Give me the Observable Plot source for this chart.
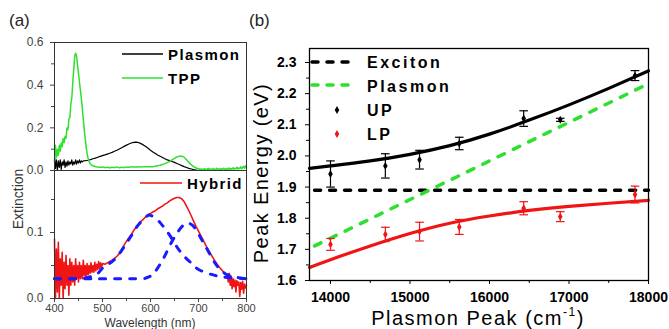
<!DOCTYPE html>
<html><head><meta charset="utf-8">
<script src="https://cdn.jsdelivr.net/npm/d3@7"></script>
<script src="https://cdn.jsdelivr.net/npm/@observablehq/plot@0.6"></script>
<style>
html,body{margin:0;padding:0;background:#fff;}
#chart{position:relative;width:669px;height:329px;overflow:hidden;background:#fff;}
#chart svg{position:absolute;left:0;top:0;}
</style></head><body><div id="chart"></div>
<script>
// ---------- Panel (a) top: Plasmon and TPP extinction ----------
const plasmonWl = [...d3.range(400, 461, 2), ...d3.range(465, 721, 5)];
const plasmonExt = [
  0.07,0.01,0.05,0.0,0.045,0.015,0.05,0.005,0.04,0.025,0.05,0.015,0.04,0.02,0.045,0.025,
  0.04,0.03,0.05,0.025,0.04,0.03,0.05,0.03,0.045,0.035,0.05,0.035,0.045,0.04,0.045,
  0.046,0.048,0.051,0.055,0.058,0.062,0.066,0.07,0.073,0.077,0.081,0.085,0.09,0.095,0.101,0.107,
  0.113,0.119,0.124,0.129,0.132,0.133,0.131,0.126,0.12,0.112,0.104,0.095,0.087,0.08,0.073,0.067,
  0.061,0.055,0.05,0.046,0.042,0.038,0.033,0.028,0.023,0.018,0.014,0.01,0.007,0.004,0.002,0.001,
  0,0,0,0];
const tppWl = [...d3.range(400, 491, 2), ...d3.range(495, 701, 5), ...d3.range(702, 801, 2)];
const tppExt = [
  0.04,0.12,0.06,0.1,0.07,0.12,0.09,0.13,0.11,0.15,0.13,0.16,0.15,0.2,0.19,0.24,
  0.25,0.31,0.34,0.41,0.47,0.53,0.55,0.535,0.495,0.455,0.415,0.375,0.335,0.29,0.24,0.19,
  0.15,0.11,0.08,0.057,0.042,0.033,0.028,0.024,0.022,0.021,0.019,0.018,0.017,0.016,
  0.015,0.016,0.014,0.015,0.013,0.015,0.014,0.016,0.013,0.015,0.014,0.016,0.015,0.017,0.016,
  0.016,0.017,0.016,0.018,0.017,0.017,0.017,0.018,0.02,0.022,0.025,0.028,0.032,0.037,0.043,
  0.05,0.057,0.063,0.067,0.067,0.062,0.05,0.038,0.027,0.018,0.012,0.008,
  0.007,0.004,0.008,0.003,0.006,0.009,0.004,0.007,0.005,0.01,0.004,0.008,0.006,0.003,0.009,
  0.005,0.007,0.004,0.01,0.006,0.005,0.009,0.004,0.008,0.006,0.011,0.005,0.008,0.004,0.01,
  0.006,0.012,0.005,0.009,0.007,0.013,0.006,0.01,0.008,0.015,0.007,0.012,0.009,0.018,0.008,
  0.014,0.02,0.01,0.022,0.012];

// ---------- Panel (a) bottom: Hybrid and the two fitted peaks ----------
const hybridWl = [...d3.range(400, 501, 2), ...d3.range(505, 761, 5), ...d3.range(762, 801, 2)];
const hybridExt = [
  0.09,0.0,0.075,0.01,0.085,0.0,0.06,0.02,0.07,0.0,0.055,0.015,0.065,0.02,0.05,0.005,0.06,
  0.02,0.055,0.025,0.05,0.02,0.06,0.03,0.05,0.025,0.055,0.03,0.05,0.03,0.058,0.035,0.05,0.03,
  0.053,0.036,0.05,0.038,0.054,0.04,0.05,0.04,0.055,0.042,0.052,0.044,0.056,0.045,0.054,0.047,0.053,
  0.052,0.054,0.056,0.058,0.061,0.064,0.068,0.074,0.081,0.087,0.092,0.097,0.103,0.108,0.113,
  0.117,0.12,0.124,0.127,0.129,0.131,0.133,0.136,0.138,0.14,0.143,0.145,0.148,0.15,0.152,0.153,
  0.153,0.151,0.147,0.14,0.133,0.125,0.117,0.109,0.102,0.095,0.088,0.081,0.074,0.068,0.062,
  0.056,0.051,0.046,0.042,0.038,0.035,
  0.025,0.038,0.02,0.034,0.015,0.03,0.018,0.028,0.01,0.027,0.02,0.025,0.003,0.024,0.014,0.026,
  0.008,0.022,0.016,0.02];
const peak1Wl = [400,440,470,490,500,510,520,530,540,550,560,570,580,590,595,600,610,620,630,640,650,660,670,680,690,700,720,740,760,780,800];
const peak1Ext = [0.03,0.03,0.032,0.038,0.046,0.051,0.056,0.063,0.073,0.084,0.095,0.107,0.116,0.123,0.126,0.126,0.122,0.115,0.106,0.096,0.084,0.073,0.064,0.057,0.05,0.044,0.038,0.034,0.032,0.031,0.03];
const peak2Wl = [400,560,590,600,610,620,630,640,650,660,670,680,690,700,710,720,730,740,750,760,780,800];
const peak2Ext = [0.03,0.03,0.031,0.034,0.041,0.052,0.065,0.08,0.093,0.104,0.112,0.114,0.109,0.098,0.085,0.072,0.059,0.048,0.041,0.036,0.032,0.03];

// ---------- Panel (b): dispersion ----------
const peakX = [14000, 14690, 15120, 15620, 16430, 16890, 17830];
const upE   = [1.942, 1.968, 1.988, 2.04, 2.12, 2.116, 2.258];
const upErr = [0.042, 0.039, 0.03, 0.02, 0.025, 0.005, 0.016];
const lpE   = [1.716, 1.748, 1.757, 1.772, 1.832, 1.805, 1.876];
const lpErr = [0.019, 0.023, 0.03, 0.024, 0.021, 0.016, 0.027];
const fitX  = [13736, 14000, 14500, 15000, 15500, 16000, 16500, 17000, 17500, 18000];
const upFitE = [1.96, 1.968, 1.984, 2.005, 2.033, 2.07, 2.115, 2.164, 2.217, 2.273];
const lpFitE = [1.642, 1.667, 1.711, 1.751, 1.784, 1.807, 1.825, 1.838, 1.848, 1.857];
const excitonX = [13800, 18000], excitonE = [1.89, 1.89];
const plasmonLineX = [13800, 18000], plasmonLineE = [1.711, 2.232];

// tick labels
const aTopTicks = [0, 0.2, 0.4, 0.6], aTopMinor = [0.1, 0.3, 0.5];
const aBotTicks = [0, 0.1], aBotMinor = [0.05, 0.15];
const wlTicks = [400, 500, 600, 700, 800], wlMinor = [450, 550, 650, 750];
const eTicks = [1.6, 1.7, 1.8, 1.9, 2.0, 2.1, 2.2, 2.3];
const eMinor = [1.65, 1.75, 1.85, 1.95, 2.05, 2.15, 2.25];
const kTicks = [14000, 15000, 16000, 17000, 18000], kMinor = [14500, 15500, 16500, 17500];

const GREEN = "#2ee02e", RED = "#f01414", BLUE = "#1a1aff";
const zip = (xs, ys) => xs.map((x, i) => ({x, y: ys[i]}));
const pts = (ys, es) => peakX.map((x, i) => ({x, y: ys[i], e: es[i]}));
const fmt1 = d3.format(".1f");
const none = () => "";
const capSymbol = {draw(ctx) { ctx.moveTo(-4.3, 0); ctx.lineTo(4.3, 0); }};
const aFont = "'Liberation Sans Narrow', 'Arial Narrow', 'Liberation Sans', Arial, sans-serif";
const bFont = "'Liberation Sans', Arial, sans-serif";

const chart = document.getElementById("chart");

const aTop = Plot.plot({
  width: 669, height: 329, marginLeft: 54, marginRight: 423, marginTop: 42, marginBottom: 159,
  x: {domain: [400, 800], axis: null},
  y: {domain: [0, 0.6]},
  style: {background: "transparent", fontFamily: aFont, fontSize: "12px", color: "#444"},
  marks: [
    Plot.axisY({ticks: aTopTicks, tickSize: 4, tickPadding: 7, tickFormat: fmt1, label: null}),
    Plot.axisY({ticks: aTopMinor, tickSize: 3, tickFormat: none, label: null}),
    Plot.line(zip(plasmonWl, plasmonExt), {x: "x", y: "y", stroke: "#000", strokeWidth: 1.2}),
    Plot.line(zip(tppWl, tppExt), {x: "x", y: "y", stroke: GREEN, strokeWidth: 1.5, curve: "monotone-x"}),
    Plot.frame({stroke: "#333"})
  ]
});

const aBot = Plot.plot({
  width: 669, height: 329, marginLeft: 54, marginRight: 423, marginTop: 170, marginBottom: 31,
  x: {domain: [400, 800]},
  y: {domain: [0, 0.194]},
  style: {background: "transparent", fontFamily: aFont, fontSize: "12px", color: "#444"},
  marks: [
    Plot.axisY({ticks: aBotTicks, tickSize: 4, tickPadding: 7, tickFormat: fmt1, label: null}),
    Plot.axisY({ticks: aBotMinor, tickSize: 3, tickFormat: none, label: null}),
    Plot.axisX({ticks: wlTicks, tickSize: 4, tickPadding: 2, fontSize: 11, tickFormat: d3.format("d"), label: null}),
    Plot.axisX({ticks: wlMinor, tickSize: 3, tickFormat: none, label: null}),
    Plot.line(zip(hybridWl, hybridExt), {x: "x", y: "y", stroke: RED, strokeWidth: 1.6}),
    Plot.line(zip(peak1Wl, peak1Ext), {x: "x", y: "y", stroke: BLUE, strokeWidth: 3, strokeDasharray: "6,9", strokeLinecap: "round", curve: "natural"}),
    Plot.line(zip(peak2Wl, peak2Ext), {x: "x", y: "y", stroke: BLUE, strokeWidth: 3, strokeDasharray: "6,9", strokeLinecap: "round", curve: "natural"}),
    Plot.frame({stroke: "#333"})
  ]
});

const upPts = pts(upE, upErr), lpPts = pts(lpE, lpErr);
const bPlot = Plot.plot({
  width: 669, height: 329, marginLeft: 309, marginRight: 21, marginTop: 48, marginBottom: 49,
  x: {domain: [13736, 18000]},
  y: {domain: [1.6, 2.345]},
  style: {background: "transparent", fontFamily: bFont, fontSize: "14px", fontWeight: "bold", color: "#000"},
  marks: [
    Plot.axisY({ticks: eTicks, tickSize: 4, tickPadding: 9, tickFormat: fmt1, label: null}),
    Plot.axisY({ticks: eMinor, tickSize: 3, tickFormat: none, label: null}),
    Plot.axisX({ticks: kTicks, tickSize: 4, tickPadding: 8, tickFormat: d3.format("d"), label: null}),
    Plot.axisX({ticks: kMinor, tickSize: 3, tickFormat: none, label: null}),
    Plot.line(zip(excitonX, excitonE), {x: "x", y: "y", stroke: "#000", strokeWidth: 3.5, strokeDasharray: "6,9", strokeLinecap: "round"}),
    Plot.line(zip(plasmonLineX, plasmonLineE), {x: "x", y: "y", stroke: GREEN, strokeWidth: 3.5, strokeDasharray: "7,10", strokeLinecap: "round"}),
    Plot.line(zip(fitX, upFitE), {x: "x", y: "y", stroke: "#000", strokeWidth: 3.2, curve: "natural"}),
    Plot.line(zip(fitX, lpFitE), {x: "x", y: "y", stroke: RED, strokeWidth: 3.2, curve: "natural"}),
    Plot.ruleX(upPts, {x: "x", y1: d => d.y - d.e, y2: d => d.y + d.e, stroke: "#000", strokeWidth: 1.2}),
    Plot.dot(upPts, {x: "x", y: d => d.y - d.e, symbol: capSymbol, fill: "none", stroke: "#000", strokeWidth: 1.2}),
    Plot.dot(upPts, {x: "x", y: d => d.y + d.e, symbol: capSymbol, fill: "none", stroke: "#000", strokeWidth: 1.2}),
    Plot.ruleX(lpPts, {x: "x", y1: d => d.y - d.e, y2: d => d.y + d.e, stroke: RED, strokeWidth: 1.2}),
    Plot.dot(lpPts, {x: "x", y: d => d.y - d.e, symbol: capSymbol, fill: "none", stroke: RED, strokeWidth: 1.2}),
    Plot.dot(lpPts, {x: "x", y: d => d.y + d.e, symbol: capSymbol, fill: "none", stroke: RED, strokeWidth: 1.2}),
    Plot.dot(upPts, {x: "x", y: "y", symbol: "diamond", r: 2.4, fill: "#000"}),
    Plot.dot(lpPts, {x: "x", y: "y", symbol: "diamond", r: 2.4, fill: RED}),
    Plot.frame({stroke: "#000", strokeWidth: 1.3})
  ]
});

chart.append(aTop, aBot, bPlot);

// ---------- overlay: panel letters, axis titles, legends ----------
const ov = d3.create("svg").attr("width", 669).attr("height", 329)
  .style("font-family", bFont);
const txt = (x, y, s, o = {}) => {
  const t = ov.append("text").attr("x", x).attr("y", y).text(s)
    .attr("font-size", o.size || 16).attr("font-weight", o.weight || "normal")
    .attr("fill", o.fill || "#000").attr("text-anchor", o.anchor || "start")
    .attr("dominant-baseline", o.baseline || "auto");
  if (o.ls) t.attr("letter-spacing", o.ls);
  if (o.tf) t.attr("transform", o.tf);
  return t;
};
txt(9, 26, "(a)", {size: 17, fill: "#222"});
txt(249, 26, "(b)", {size: 17, fill: "#222"});
txt(0, 0, "Extinction", {size: 14, anchor: "middle", baseline: "central", fill: "#333", tf: "translate(18,199) rotate(-90)"});
txt(150, 326.5, "Wavelength (nm)", {size: 12, anchor: "middle", fill: "#333"});
txt(0, 0, "Peak Energy (eV)", {size: 20, anchor: "middle", baseline: "central", ls: 1.4, tf: "translate(261,173) rotate(-90)"});
const xl = txt(478, 325, "Plasmon Peak (cm", {size: 20, anchor: "middle", ls: 1.5});
xl.append("tspan").attr("dy", -9).attr("font-size", 12).text("-1");
xl.append("tspan").attr("dy", 9).text(")");

const seg = (x1, x2, y, stroke, w, dash) => {
  const l = ov.append("line").attr("x1", x1).attr("x2", x2).attr("y1", y).attr("y2", y)
    .attr("stroke", stroke).attr("stroke-width", w);
  if (dash) l.attr("stroke-dasharray", dash).attr("stroke-linecap", "round");
};
// panel (a) legend
seg(122, 163, 54, "#000", 1.3);
txt(168, 54, "Plasmon", {size: 15, weight: "bold", baseline: "central", ls: 1.4});
seg(122, 163, 78, GREEN, 1.5);
txt(168, 78, "TPP", {size: 15, weight: "bold", baseline: "central", ls: 1.4});
seg(140, 182, 183, RED, 1.6);
txt(187, 183, "Hybrid", {size: 15, weight: "bold", baseline: "central", ls: 1.4});
// panel (b) legend
seg(312, 352, 62, "#000", 3.5, "6,9");
txt(367, 62, "Exciton", {size: 16, weight: "bold", baseline: "central", ls: 2.5});
seg(312, 352, 85, GREEN, 3.5, "6,9");
txt(367, 86, "Plasmon", {size: 16, weight: "bold", baseline: "central", ls: 2.5});
const dia = d3.symbol().type(d3.symbolDiamond).size(Math.PI * 2.4 * 2.4)();
ov.append("path").attr("d", dia).attr("fill", "#000").attr("transform", "translate(337,110)");
txt(367, 110, "UP", {size: 16, weight: "bold", baseline: "central", ls: 2.5});
ov.append("path").attr("d", dia).attr("fill", RED).attr("transform", "translate(337,134)");
txt(367, 134, "LP", {size: 16, weight: "bold", baseline: "central", ls: 2.5});

chart.append(ov.node());
</script></body></html>
